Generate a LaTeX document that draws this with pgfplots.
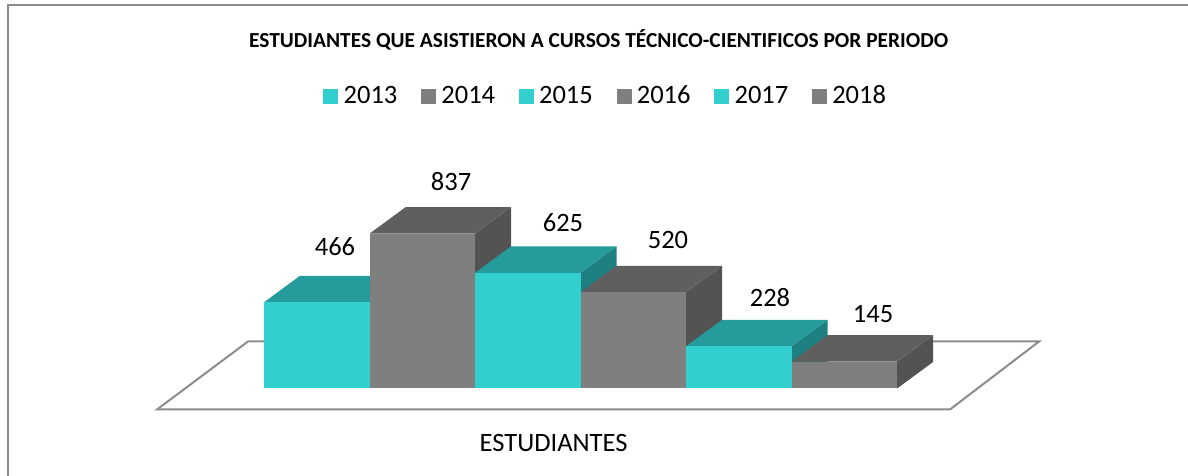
\documentclass[border=0pt]{standalone}
\usepackage{fontspec}
\setmainfont{Carlito}
\usepackage{pgfplots}
\pgfplotsset{compat=1.18}

\definecolor{tealfront}{HTML}{33CFCF}
\definecolor{tealtop}{HTML}{269B9B}
\definecolor{tealside}{HTML}{1E8080}
\definecolor{grayfront}{HTML}{7F7F7F}
\definecolor{graytop}{HTML}{5F5F5F}
\definecolor{grayside}{HTML}{535353}
\definecolor{framegray}{HTML}{8C8C8C}

% one bar as three faces: slot, value, colour prefix
\newcommand{\cuboid}[3]{%
  \pgfmathsetmacro\xa{#1}%
  \pgfmathsetmacro\xb{#1+1}%
  \pgfmathsetmacro\xc{#1+0.3412}%
  \pgfmathsetmacro\xd{#1+1.3412}%
  \pgfmathsetmacro\yb{#2+143}%
  \addplot[forget plot,draw=none,fill=#3side] coordinates {(\xb,0) (\xd,143) (\xd,\yb) (\xb,#2)} --cycle;
  \addplot[forget plot,draw=none,fill=#3top] coordinates {(\xa,#2) (\xb,#2) (\xd,\yb) (\xc,\yb)} --cycle;
  \addplot[forget plot,draw=none,fill=#3front] coordinates {(\xa,0) (\xb,0) (\xb,#2) (\xa,#2)} --cycle;
}

\begin{document}
\begin{tikzpicture}
\fill[white,use as bounding box] (0,0) rectangle (712.8pt,285.6pt);
\begin{axis}[
    at={(0,0)},
    anchor=south west,
    scale only axis,
    width=712.8pt,
    height=285.6pt,
    xmin=-2.5024,
    xmax=8.758,
    ymin=-473,
    ymax=2100,
    clip=false,
    axis line style={draw=none},
    xtick=\empty,
    ytick=\empty,
    title={\fontsize{12.85pt}{15pt}\selectfont\bfseries ESTUDIANTES QUE ASISTIERON A CURSOS TÉCNICO-CIENTIFICOS POR PERIODO},
    title style={at={(axis description cs:0.504,0.895)},anchor=center,inner sep=0pt},
    xlabel={ESTUDIANTES},
    xlabel style={at={(axis description cs:0.466,0.069)},anchor=center,inner sep=0pt,font=\fontsize{15.9pt}{18pt}\selectfont},
    legend columns=6,
    legend cell align=left,
    legend style={
        at={(axis description cs:0.2719,0.798)},
        anchor=west,
        draw=none,
        fill=none,
        inner sep=0pt,
        font=\fontsize{15.9pt}{18pt}\selectfont,
        /tikz/every odd column/.append style={column sep=1.2pt},
        /tikz/every even column/.append style={column sep=12.2pt},
    },
    legend image code/.code={\fill[#1] (0pt,-4.5pt) rectangle (9pt,4.5pt);},
]
\addlegendimage{fill=tealfront,draw=none}
\addlegendentry{2013}
\addlegendimage{fill=grayfront,draw=none}
\addlegendentry{2014}
\addlegendimage{fill=tealfront,draw=none}
\addlegendentry{2015}
\addlegendimage{fill=grayfront,draw=none}
\addlegendentry{2016}
\addlegendimage{fill=tealfront,draw=none}
\addlegendentry{2017}
\addlegendimage{fill=grayfront,draw=none}
\addlegendentry{2018}

% outer frame, left and top only
\addplot[forget plot,framegray,line width=1.2pt] coordinates {(-2.431,-473) (-2.431,2070.3) (8.758,2070.3)};
% floor
\addplot[forget plot,framegray,line width=1.2pt,fill=white] coordinates {(-1.014,-113.5) (6.502,-113.5) (7.346,254) (-0.152,254)} --cycle;

\cuboid{0}{466}{teal}
\cuboid{1}{837}{gray}
\cuboid{2}{625}{teal}
\cuboid{3}{520}{gray}
\cuboid{4}{228}{teal}
\cuboid{5}{145}{gray}

% value labels sit off-centre above the back edge of each bar
\addplot[forget plot,only marks,mark=none,point meta=explicit symbolic,nodes near coords,
    nodes near coords style={anchor=center,inner sep=0pt,font=\fontsize{15.9pt}{18pt}\selectfont}]
  table[meta=val] {
    x     y    val
    0.673 765  466
    1.773 1117 837
    2.834 895  625
    3.829 803  520
    4.796 489  228
    5.773 403  145
};
\end{axis}
\end{tikzpicture}
\end{document}
